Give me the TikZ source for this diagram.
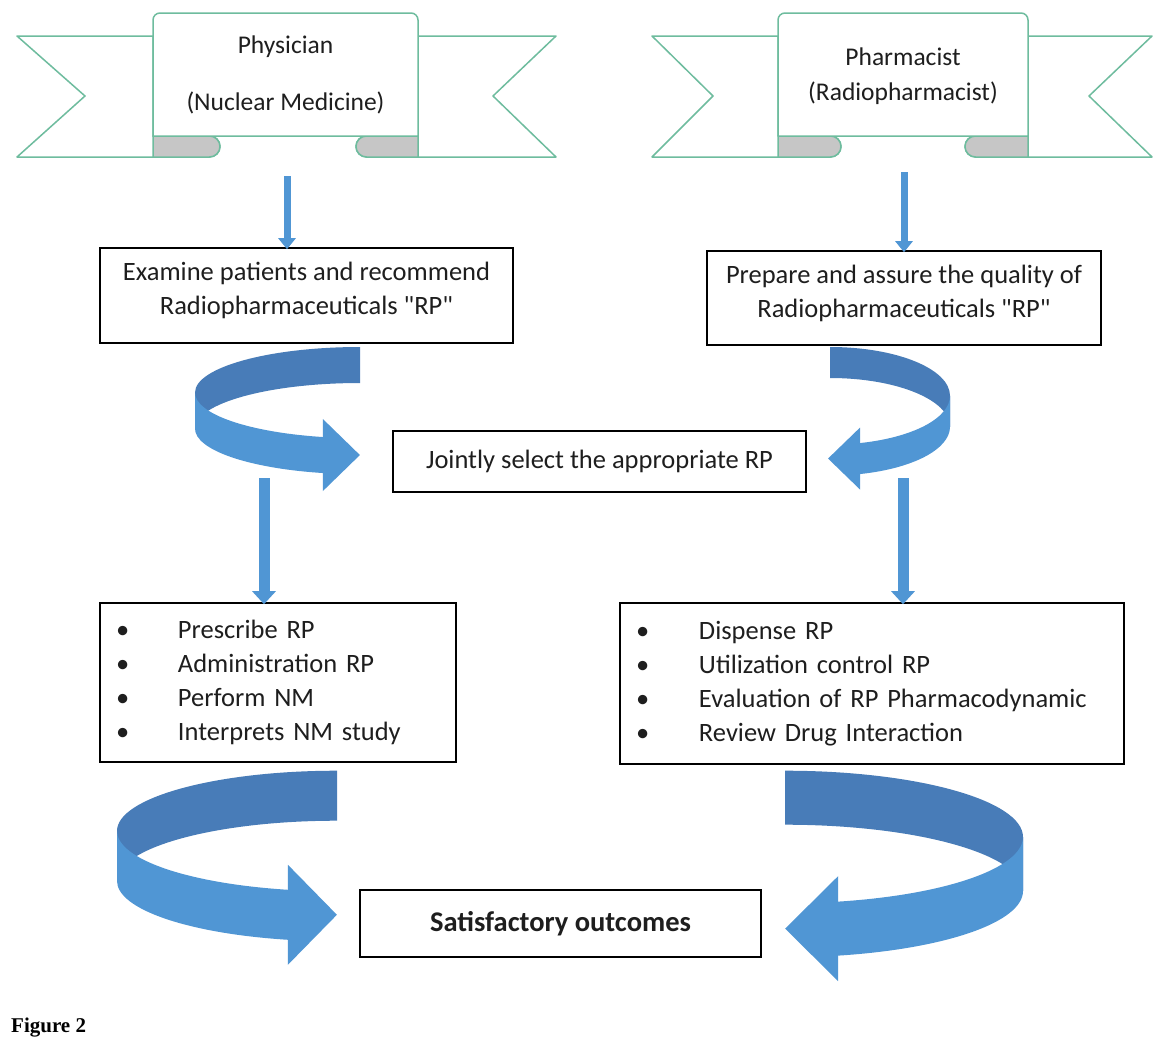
\documentclass[tikz,border=0pt]{standalone}
\usepackage{fontspec}
\setmainfont{Carlito}
\newfontfamily\figfont{Liberation Serif}
\newfontfamily\qfont[Ligatures=TeXOff]{Carlito}
\usetikzlibrary{arrows.meta}
\definecolor{arrdark}{RGB}{72,124,184}
\definecolor{arrlight}{RGB}{80,150,212}
\definecolor{ribgreen}{RGB}{110,188,158}
\definecolor{curlgray}{RGB}{198,198,198}
\definecolor{txt}{RGB}{30,30,30}
\newcommand\qrp{{\qfont"RP"}}
% 3D ribbon arrow: #1 rx, #2 ry, #3 thickness, #4 end angle, #5 head half width, #6 head length
\newcommand\ribarrow[6]{%
  \fill[arrdark] (0,-#2) arc[start angle=270,end angle=180,x radius=#1,y radius=#2]
     -- ++(0,#3) arc[start angle=180,end angle=270,x radius=#1,y radius=#2] -- cycle;
  \fill[arrlight] (-#1,0) arc[start angle=180,end angle=#4,x radius=#1,y radius=#2]
     -- ++(0,#3) arc[start angle=#4,end angle=180,x radius=#1,y radius=#2] -- cycle;
  \fill[arrlight] ({#1*cos(#4)},{#2*sin(#4)+#3/2-#5}) -- ++(0,{2*#5})
     -- ({#1*cos(#4)+#6},{#2*sin(#4)+#3/2}) -- cycle;
}
% ribbon banner
\newcommand\myribbon[8]{%
  \filldraw[ribline] (#3,36) -- (#1,36) -- (#2,96) -- (#1,157) -- (#4,157)
     arc[start angle=90,end angle=-90,radius=10.5] -- (#3,136) -- cycle;
  \filldraw[ribline] (#6,36) -- (#8,36) -- (#7,96) -- (#8,157) -- (#5,157)
     arc[start angle=90,end angle=270,radius=10.5] -- (#6,136) -- cycle;
  \filldraw[curl] (#3,136) -- (#4,136) arc[start angle=-90,end angle=90,radius=10.5] -- (#3,157) -- cycle;
  \filldraw[curl] (#6,136) -- (#5,136) arc[start angle=270,end angle=90,radius=10.5] -- (#6,157) -- cycle;
  \filldraw[ribline] (#3,136) {[rounded corners=7pt] -- (#3,13) -- (#6,13)} -- (#6,136) -- cycle;
}
\begin{document}
\begin{tikzpicture}[x=1pt,y=1pt,yscale=-1,
  ribline/.style={draw=ribgreen,line width=1.5pt,fill=white,line join=round},
  curl/.style={draw=ribgreen,line width=1.5pt,fill=curlgray,line join=round},
  box/.style={draw=black,line width=1.6pt,fill=white,inner sep=0pt,align=center,
     text=txt,font=\fontsize{26.5}{34}\selectfont},
  lbl/.style={text=txt,inner sep=0pt,font=\fontsize{25.5}{30}\selectfont},
  thinarr/.style={draw=arrlight,line width=7pt,-{Triangle[width=17pt,length=11pt]}},
  midarr/.style={draw=arrlight,line width=11pt,-{Triangle[width=23pt,length=13pt]}}]
\fill[white] (0,0) rectangle (1159,1039);
\useasboundingbox (0,0) rectangle (1159,1039);

% banners
\myribbon{17}{85}{153}{209.5}{366.5}{418}{493}{556}
\myribbon{652}{713}{778}{830.5}{975.5}{1028}{1089}{1152}
\node[lbl] (phys) at (285.5,47) {Physician};
\node[lbl] (physsub) at (285.5,103) {(Nuclear Medicine)};
\node[lbl] (pharm) at (903,57) {Pharmacist};
\node[lbl] (pharmsub) at (903,93) {(Radiopharmacist)};

% boxes
\node[box,minimum width=413pt,minimum height=95pt] (ex) at (306.5,295.5)
  {Examine patients and recommend\\Radiopharmaceuticals \qrp\rule[-14pt]{0pt}{8pt}};
\node[box,minimum width=394pt,minimum height=94pt] (prep) at (904,298)
  {Prepare and assure the quality of\\Radiopharmaceuticals \qrp\rule[-14pt]{0pt}{8pt}};
\node[box,minimum width=413pt,minimum height=61pt] (joint) at (599.5,461.5)
  {Jointly select the appropriate RP};
\node[box,minimum width=356pt,minimum height=159pt,text width=324pt,inner xsep=16pt,align=left] (lb) at (278,682.5)
  {\makebox[62pt][l]{\textbullet}Prescribe RP\\
   \makebox[62pt][l]{\textbullet}Administration RP\\
   \makebox[62pt][l]{\textbullet}Perform NM\\
   \makebox[62pt][l]{\textbullet}Interprets NM study};
\node[box,minimum width=504pt,minimum height=161pt,text width=472pt,inner xsep=16pt,align=left] (rb) at (872,683.5)
  {\makebox[63pt][l]{\textbullet}Dispense RP\\
   \makebox[63pt][l]{\textbullet}Utilization control RP\\
   \makebox[63pt][l]{\textbullet}Evaluation of RP Pharmacodynamic\\
   \makebox[63pt][l]{\textbullet}Review Drug Interaction};
\node[box,minimum width=401pt,minimum height=67pt,font=\bfseries\fontsize{28.5}{34}\selectfont] (sat) at (560.5,923.5)
  {Satisfactory outcomes};

% straight arrows
\coordinate (a1) at (287,176);
\draw[thinarr] (a1) -- ([yshift=2pt]a1 |- ex.north);
\coordinate (a2) at (904,172);
\draw[thinarr] (a2) -- ([yshift=2pt]a2 |- prep.north);
\coordinate (a3) at (264,478);
\draw[midarr] (a3) -- ([yshift=2pt]a3 |- lb.north);
\coordinate (a4) at (903,478);
\draw[midarr] (a4) -- ([yshift=2pt]a4 |- rb.north);

% curved ribbon arrows
\begin{scope}[shift={(360,392.6)}]
  \ribarrow{165}{45.6}{36}{103}{36}{37}
\end{scope}
\begin{scope}[shift={(830,395.8)},xscale=-1]
  \ribarrow{120}{48.8}{31}{104.5}{31}{32}
\end{scope}
\begin{scope}[shift={(337,831)}]
  \ribarrow{220}{60.3}{50}{102.9}{50}{49}
\end{scope}
\begin{scope}[shift={(785,837)},xscale=-1]
  \ribarrow{238}{66.3}{54}{102.9}{52.5}{53}
\end{scope}

\node[anchor=base west,inner sep=0pt,font=\figfont\bfseries\fontsize{21}{25}\selectfont] (figlbl) at (11,1032) {Figure 2};
\end{tikzpicture}
\end{document}
